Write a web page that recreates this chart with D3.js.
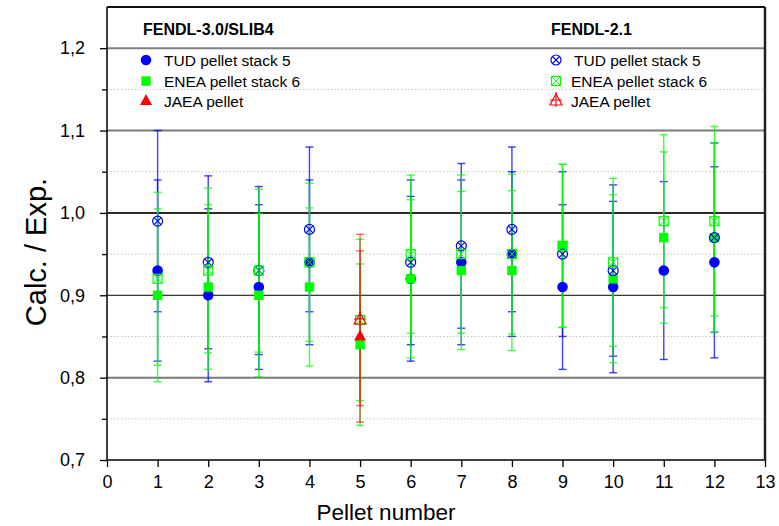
<!DOCTYPE html>
<html>
<head>
<meta charset="utf-8">
<script src="https://cdn.jsdelivr.net/npm/d3@7"></script>
<style>
  body { margin: 0; background: #fff; }
  text { font-family: "Liberation Sans", Arial, sans-serif; }
</style>
</head>
<body>
<svg width="779" height="526"></svg>
<script>
// data (Calc./Exp. per pellet, with half error bar)
const pellets = [1, 2, 3, 4, 5, 6, 7, 8, 9, 10, 11, 12];

// FENDL-3.0/SLIB4
const tudF3      = [0.93, 0.90, 0.91, 0.94, null, 0.92, 0.94, 0.95, 0.91, 0.91, 0.93, 0.94];
const tudF3Err   = [0.110, 0.105, 0.100, 0.100, null, 0.100, 0.100, 0.100, 0.100, 0.104, 0.108, 0.116];
const eneaF3     = [0.90, 0.91, 0.90, 0.91, 0.84, 0.92, 0.93, 0.93, 0.96, 0.92, 0.97, 0.97];
const eneaF3Err  = [0.105, 0.100, 0.099, 0.096, 0.098, 0.096, 0.096, 0.097, 0.099, 0.102, 0.104, 0.115];
const jaeaF3     = [null, null, null, null, 0.85, null, null, null, null, null, null, null];
const jaeaF3Err  = [null, null, null, null, 0.104, null, null, null, null, null, null, null];

// FENDL-2.1
const tudF2      = [0.99, 0.94, 0.93, 0.98, null, 0.94, 0.96, 0.98, 0.95, 0.93, null, 0.97];
const tudF2Err   = [0.110, 0.105, 0.102, 0.100, null, 0.100, 0.100, 0.100, 0.100, 0.104, null, 0.115];
const eneaF2     = [0.92, 0.93, 0.93, 0.94, 0.87, 0.95, 0.95, 0.95, 0.96, 0.94, 0.99, 0.99];
const eneaF2Err  = [0.105, 0.100, 0.099, 0.096, 0.098, 0.096, 0.096, 0.097, 0.099, 0.102, 0.105, 0.115];
const jaeaF2     = [null, null, null, null, 0.87, null, null, null, null, null, null, null];
const jaeaF2Err  = [null, null, null, null, 0.104, null, null, null, null, null, null, null];

const xTicks = d3.range(0, 14);
const yMajor = [0.7, 0.8, 0.9, 1.0, 1.1, 1.2];
const yMinor = [0.75, 0.85, 0.95, 1.05, 1.15];

const BLUE = "#0000ff", GREEN = "#00ff00", RED = "#ff0000";

const svg = d3.select("svg");
const x = d3.scaleLinear().domain([0, 13]).range([107, 765]);
const y = d3.scaleLinear().domain([0.7, 1.25]).range([460, 7]);

// minor dotted grid
svg.selectAll(".minor").data(yMinor).enter().append("line")
  .attr("x1", x(0)).attr("x2", x(13))
  .attr("y1", d => y(d)).attr("y2", d => y(d))
  .attr("stroke", "#c4c4c4").attr("stroke-width", 1)
  .attr("stroke-dasharray", "1.5,2");

// major grid lines (style differs per line in the original)
const gridStyle = {0.8: ["#7a7a7a", 2], 0.9: ["#000", 1], 1.0: ["#2a2a2a", 2], 1.1: ["#7a7a7a", 2], 1.2: ["#808080", 2]};
svg.selectAll(".major").data(yMajor.slice(1)).enter().append("line")
  .attr("x1", x(0)).attr("x2", x(13))
  .attr("y1", d => y(d)).attr("y2", d => y(d))
  .attr("stroke", d => gridStyle[d][0])
  .attr("stroke-width", d => gridStyle[d][1]);

// axes
const fmt = d => d3.format(".1f")(d).replace(".", ",");
svg.append("g").attr("transform", `translate(${x(0)},0)`)
  .call(d3.axisLeft(y).tickValues(yMajor).tickFormat(fmt).tickSize(7).tickPadding(15));
svg.append("g").attr("transform", `translate(${x(0)},0)`)
  .call(d3.axisLeft(y).tickValues(yMinor).tickFormat("").tickSize(5));
svg.append("g").attr("transform", `translate(0,${y(0.7)})`)
  .call(d3.axisBottom(x).tickValues(xTicks).tickFormat(d3.format("d")).tickSize(7).tickPadding(8));
svg.selectAll(".domain").remove();
svg.selectAll(".tick line").attr("stroke", "#000").attr("stroke-width", 1.3);
svg.selectAll(".tick text").attr("fill", "#000").style("font-size", "18px")
  .style("font-family", "'Liberation Sans', Arial, sans-serif");

// frame
svg.append("line").attr("x1", x(0)).attr("x2", x(0)).attr("y1", y(1.25)).attr("y2", y(0.7))
  .attr("stroke", "#000").attr("stroke-width", 1.5);
svg.append("line").attr("x1", x(0)).attr("x2", x(13)).attr("y1", y(0.7)).attr("y2", y(0.7))
  .attr("stroke", "#000").attr("stroke-width", 1.5);
svg.append("line").attr("x1", x(0)).attr("x2", x(13)).attr("y1", y(1.25)).attr("y2", y(1.25))
  .attr("stroke", "#111").attr("stroke-width", 2);
svg.append("line").attr("x1", x(13)).attr("x2", x(13)).attr("y1", y(1.25)).attr("y2", y(0.7))
  .attr("stroke", "#222").attr("stroke-width", 2.5);

// axis titles
svg.append("text").attr("x", 386).attr("y", 520).attr("text-anchor", "middle")
  .style("font-size", "22.5px").text("Pellet number");
svg.append("text").attr("transform", "translate(46,252) rotate(-90)").attr("text-anchor", "middle")
  .style("font-size", "29px").text("Calc. / Exp.");

// series definitions
const series = [
  {v: tudF3,  e: tudF3Err,  c: BLUE,  sym: "circle",    op: 0.75},
  {v: tudF2,  e: tudF2Err,  c: BLUE,  sym: "xcircle",   op: 0.75},
  {v: eneaF3, e: eneaF3Err, c: GREEN, sym: "square",    op: 0.75},
  {v: eneaF2, e: eneaF2Err, c: GREEN, sym: "xsquare",   op: 0.75},
  {v: jaeaF3, e: jaeaF3Err, c: RED,   sym: "triangle",  op: 0.6},
  {v: jaeaF2, e: jaeaF2Err, c: RED,   sym: "xtriangle", op: 0.6}
];
const pts = s => pellets.map((p, i) => ({p: p, v: s.v[i], e: s.e[i]})).filter(d => d.v != null);

// error bars: blue first, then green, then red (overlaps mix like the original)
const cap = 4;
series.forEach(s => {
  const g = svg.append("g").attr("stroke", s.c).attr("stroke-width", 1.4).attr("stroke-opacity", s.op);
  pts(s).forEach(d => {
    const px = x(d.p);
    g.append("line").attr("x1", px).attr("x2", px).attr("y1", y(d.v + d.e)).attr("y2", y(d.v - d.e));
    g.append("line").attr("x1", px - cap).attr("x2", px + cap).attr("y1", y(d.v + d.e)).attr("y2", y(d.v + d.e));
    g.append("line").attr("x1", px - cap).attr("x2", px + cap).attr("y1", y(d.v - d.e)).attr("y2", y(d.v - d.e));
  });
});

// marker drawing
function marker(g, sym, c, cx, cy) {
  if (sym === "circle") {
    g.append("circle").attr("cx", cx).attr("cy", cy).attr("r", 5.3).attr("fill", c);
  } else if (sym === "square") {
    g.append("rect").attr("x", cx - 4.7).attr("y", cy - 4.7).attr("width", 9.4).attr("height", 9.4).attr("fill", c);
  } else if (sym === "triangle") {
    g.append("path").attr("d", `M${cx},${cy - 7}L${cx + 6},${cy + 4}L${cx - 6},${cy + 4}Z`).attr("fill", c);
  } else if (sym === "xcircle") {
    const r = 5, k = r * 0.7;
    g.append("circle").attr("cx", cx).attr("cy", cy).attr("r", r).attr("fill", "none").attr("stroke", c).attr("stroke-width", 1.2);
    g.append("path").attr("d", `M${cx - k},${cy - k}L${cx + k},${cy + k}M${cx + k},${cy - k}L${cx - k},${cy + k}`)
      .attr("stroke", c).attr("stroke-width", 1.1);
  } else if (sym === "xsquare") {
    const h = 4.5;
    g.append("rect").attr("x", cx - h).attr("y", cy - h).attr("width", 2 * h).attr("height", 2 * h)
      .attr("fill", "none").attr("stroke", c).attr("stroke-width", 1.2);
    g.append("path").attr("d", `M${cx - h},${cy - h}L${cx + h},${cy + h}M${cx + h},${cy - h}L${cx - h},${cy + h}`)
      .attr("stroke", c).attr("stroke-width", 1);
  } else if (sym === "xtriangle") {
    g.append("path").attr("d", `M${cx},${cy - 7}L${cx + 6},${cy + 4}L${cx - 6},${cy + 4}Z`)
      .attr("fill", "none").attr("stroke", c).attr("stroke-width", 1.2);
    g.append("path").attr("d", `M${cx},${cy - 9}L${cx},${cy + 6}M${cx - 6},${cy - 1}L${cx + 6},${cy - 1}`)
      .attr("stroke", c).attr("stroke-width", 1.1);
  }
}

// filled (FENDL-3.0) under open (FENDL-2.1)
const order = [0, 2, 4, 1, 3, 5];
order.forEach(k => {
  const s = series[k];
  const g = svg.append("g");
  pts(s).forEach(d => marker(g, s.sym, s.c, x(d.p), y(d.v)));
});

// legend
svg.append("text").attr("x", 143).attr("y", 35).style("font-size", "16px").style("font-weight", "bold").text("FENDL-3.0/SLIB4");
svg.append("text").attr("x", 551).attr("y", 35).style("font-size", "16px").style("font-weight", "bold").text("FENDL-2.1");
const legNames = ["TUD pellet stack 5", "ENEA pellet stack 6", "JAEA pellet"];
const legRows = [60, 81, 101];
[[0, 2, 4], [1, 3, 5]].forEach((col, ci) => {
  const mx = ci === 0 ? 146 : 556;
  const tx = ci === 0 ? 164 : 571;
  col.forEach((k, r) => {
    const g = svg.append("g");
    marker(g, series[k].sym, series[k].c, mx, legRows[r]);
    svg.append("text").attr("x", tx + (ci === 1 && r === 0 ? 3 : 0)).attr("y", legRows[r] + 5.5)
      .style("font-size", "15.5px").text(legNames[r]);
  });
});
</script>
</body>
</html>
